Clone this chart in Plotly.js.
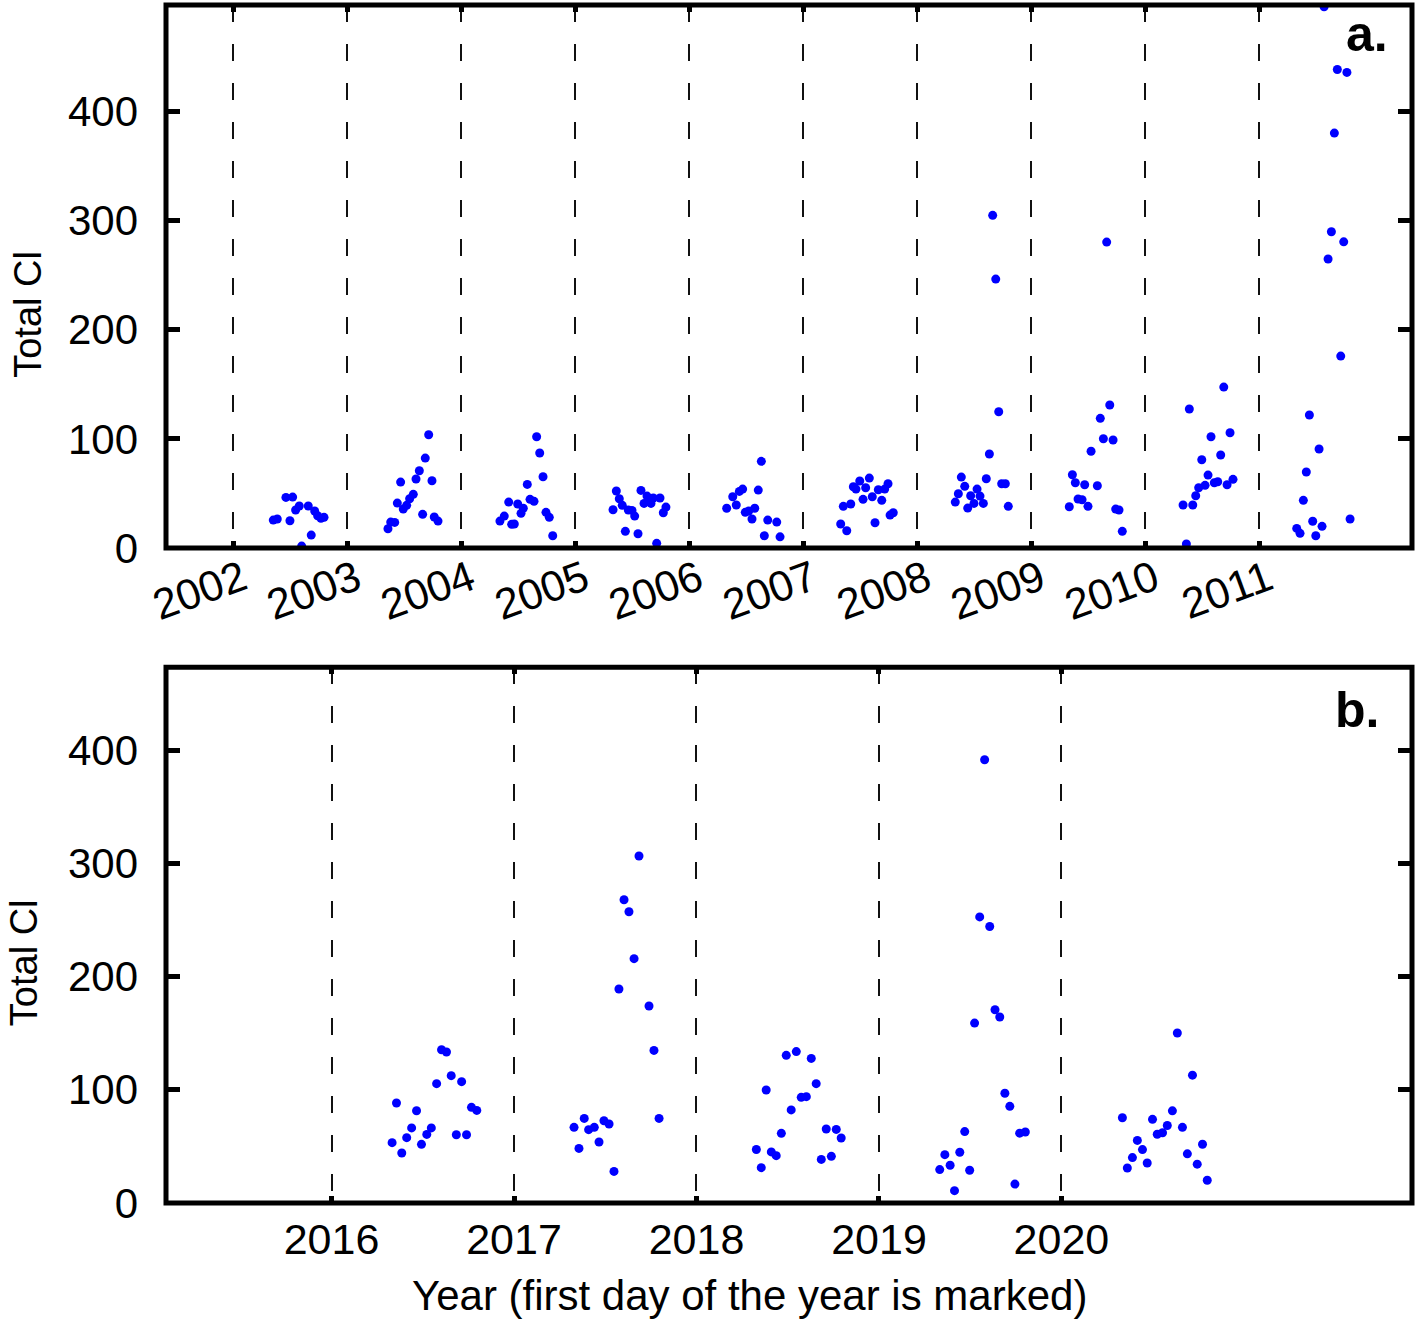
<!DOCTYPE html>
<html>
<head>
<meta charset="utf-8">
<script src="https://cdn.plot.ly/plotly-3.0.1.min.js"></script>
<style>
  body { margin: 0; background: #fff; }
  #chart { width: 1421px; height: 1324px; }
</style>
</head>
<body>
<div id="chart"></div>
<script>
// panel a: 2002-2011, decimal year of each sample and its total Cl
var yearsA = [
  2002.351, 2002.386, 2002.462, 2002.497, 2002.521, 2002.547, 2002.579, 2002.600, 2002.658, 2002.684, 2002.714, 2002.740, 2002.769, 2002.796,
  2003.357, 2003.381, 2003.416, 2003.439, 2003.468, 2003.491, 2003.521, 2003.547, 2003.579, 2003.603, 2003.632, 2003.661, 2003.684, 2003.714, 2003.743, 2003.763, 2003.796,
  2004.339, 2004.377, 2004.416, 2004.442, 2004.465, 2004.495, 2004.524, 2004.544, 2004.579, 2004.603, 2004.638, 2004.661, 2004.688, 2004.717, 2004.743, 2004.772, 2004.802,
  2005.331, 2005.360, 2005.386, 2005.412, 2005.439, 2005.465, 2005.497, 2005.521, 2005.550, 2005.576, 2005.603, 2005.629, 2005.655, 2005.664, 2005.684, 2005.714, 2005.743, 2005.772, 2005.795,
  2006.328, 2006.381, 2006.412, 2006.439, 2006.468, 2006.491, 2006.521, 2006.550, 2006.574, 2006.605, 2006.632, 2006.658, 2006.688, 2006.767, 2006.796,
  2007.328, 2007.351, 2007.381, 2007.416, 2007.439, 2007.462, 2007.495, 2007.524, 2007.547, 2007.579, 2007.605, 2007.629, 2007.658, 2007.688, 2007.714, 2007.743, 2007.761, 2007.789,
  2008.333, 2008.360, 2008.386, 2008.416, 2008.442, 2008.468, 2008.497, 2008.524, 2008.550, 2008.579, 2008.605, 2008.632, 2008.661, 2008.688, 2008.714, 2008.740, 2008.772, 2008.798,
  2009.333, 2009.360, 2009.386, 2009.410, 2009.445, 2009.468, 2009.497, 2009.524, 2009.579, 2009.605, 2009.632, 2009.661, 2009.688, 2009.717, 2009.740, 2009.769, 2009.798,
  2010.331, 2010.360, 2010.386, 2010.416, 2010.442, 2010.468, 2010.495, 2010.524, 2010.550, 2010.576, 2010.605, 2010.635, 2010.661, 2010.688, 2010.717, 2010.743, 2010.769,
  2011.328, 2011.357, 2011.386, 2011.412, 2011.439, 2011.468, 2011.495, 2011.524, 2011.550, 2011.568, 2011.603, 2011.632, 2011.658, 2011.684, 2011.714, 2011.740, 2011.768, 2011.796
];
var totalClA = [
  25.6, 26.6, 46.4, 25.0, 46.7, 34.8, 38.5, 1.8, 38.5, 11.9, 33.9, 29.6, 27.2, 28.1,
  17.7, 23.8, 23.5, 41.2, 60.4, 35.7, 39.1, 45.1, 49.2, 63.2, 70.8, 30.9, 82.4, 103.8, 61.6, 28.4, 24.7,
  24.7, 29.3, 42.1, 21.7, 22.0, 40.3, 31.8, 36.4, 58.3, 44.6, 42.8, 101.9, 87.0, 65.3, 32.7, 28.1, 11.3,
  35.1, 52.2, 45.1, 39.1, 15.3, 34.8, 34.5, 29.3, 13.1, 52.8, 40.9, 47.6, 45.1, 40.9, 45.8, 4.3, 45.8, 32.3, 37.5,
  36.4, 47.0, 39.4, 51.9, 54.0, 32.7, 33.9, 26.6, 36.4, 53.1, 79.4, 11.3, 25.6, 23.8, 10.3,
  22.0, 38.2, 15.8, 40.3, 56.1, 54.0, 61.4, 44.6, 55.2, 64.1, 47.0, 23.2, 53.4, 43.7, 54.0, 58.9, 30.2, 32.3,
  42.1, 49.7, 65.0, 56.5, 36.6, 47.9, 40.9, 54.0, 47.6, 40.9, 63.5, 86.1, 304.7, 246.3, 124.8, 58.9, 58.9, 38.2,
  37.8, 67.1, 59.8, 44.9, 44.2, 58.0, 38.2, 88.6, 57.1, 118.8, 100.1, 280.2, 131.0, 98.9, 35.7, 34.8, 15.3,
  39.4, 3.7, 127.3, 39.4, 47.9, 55.2, 80.9, 57.4, 66.8, 101.9, 59.8, 60.7, 85.2, 147.4, 58.0, 105.6, 62.9,
  18.0, 13.5, 43.7, 69.6, 121.8, 24.5, 11.3, 90.7, 19.9, 495.7, 264.7, 289.7, 380.0, 438.2, 175.8, 280.4, 435.6, 26.6
];

// panel b: 2016-2020
var yearsB = [
  2016.332, 2016.356, 2016.385, 2016.412, 2016.439, 2016.466, 2016.493, 2016.522, 2016.547, 2016.576, 2016.603, 2016.630, 2016.656, 2016.684, 2016.713, 2016.740, 2016.767, 2016.796,
  2017.329, 2017.356, 2017.385, 2017.409, 2017.440, 2017.466, 2017.493, 2017.521, 2017.548, 2017.575, 2017.603, 2017.630, 2017.658, 2017.685, 2017.740, 2017.767, 2017.795,
  2018.328, 2018.355, 2018.382, 2018.410, 2018.437, 2018.465, 2018.492, 2018.519, 2018.547, 2018.574, 2018.602, 2018.629, 2018.656, 2018.684, 2018.711, 2018.739, 2018.766, 2018.793,
  2019.333, 2019.361, 2019.390, 2019.414, 2019.443, 2019.470, 2019.497, 2019.524, 2019.552, 2019.579, 2019.607, 2019.636, 2019.662, 2019.690, 2019.717, 2019.745, 2019.771, 2019.802,
  2020.334, 2020.361, 2020.389, 2020.416, 2020.444, 2020.470, 2020.499, 2020.525, 2020.554, 2020.580, 2020.608, 2020.635, 2020.663, 2020.690, 2020.718, 2020.744, 2020.773, 2020.799
];
var totalClB = [
  53.3, 88.3, 44.2, 57.7, 66.3, 81.5, 51.8, 60.6, 66.3, 105.4, 135.4, 133.4, 112.5, 60.3, 107.2, 60.3, 84.5, 81.8,
  66.8, 48.2, 74.7, 64.8, 66.8, 53.9, 72.7, 69.8, 27.9, 189.0, 267.9, 257.3, 215.8, 306.5, 174.0, 134.8, 74.7,
  47.3, 31.2, 99.8, 45.1, 41.8, 61.5, 130.4, 82.2, 133.7, 93.3, 93.9, 127.7, 105.4, 38.5, 65.4, 41.2, 65.0, 57.4,
  29.5, 42.7, 33.3, 10.9, 44.8, 63.1, 28.9, 158.9, 252.7, 391.5, 244.2, 170.7, 164.3, 96.9, 85.4, 16.7, 61.7, 62.7,
  75.3, 30.9, 40.1, 55.3, 47.2, 35.3, 73.9, 60.7, 62.1, 68.5, 81.4, 150.2, 66.8, 43.4, 112.9, 34.3, 51.9, 20.1
];

var yearTicksA = [2002, 2003, 2004, 2005, 2006, 2007, 2008, 2009, 2010, 2011];
var yearTicksB = [2016, 2017, 2018, 2019, 2020];
var clTicks = [0, 100, 200, 300, 400];

var FONT = 'Liberation Sans, Arial, Helvetica, sans-serif';
var blue = '#0000ff';

var traceA = {
    x: yearsA,
    y: totalClA,
    xaxis: 'x',
    yaxis: 'y',
    type: 'scatter',
    mode: 'markers',
    marker: { color: blue, size: 9, line: { width: 0 } },
    showlegend: false,
    hoverinfo: 'x+y'
};

var traceB = {
    x: yearsB,
    y: totalClB,
    xaxis: 'x2',
    yaxis: 'y2',
    type: 'scatter',
    mode: 'markers',
    marker: { color: blue, size: 9, line: { width: 0 } },
    showlegend: false,
    hoverinfo: 'x+y'
};

// shared look of the year axes (dashed line on every 1 January)
function yearAxis(ticks, range, domainAnchor) {
    return {
        range: range,
        anchor: domainAnchor,
        tickmode: 'array',
        tickvals: ticks,
        ticktext: ticks.map(String),
        ticks: 'inside',
        ticklen: 7,
        tickwidth: 5,
        tickcolor: '#000',
        mirror: 'ticks',
        showline: false,
        zeroline: false,
        showgrid: true,
        gridcolor: '#111',
        gridwidth: 2,
        griddash: '17px,22px',
        tickfont: { family: FONT, size: 43, color: '#000' }
    };
}

function clAxis(range, domain, xAnchor) {
    return {
        range: range,
        domain: domain,
        anchor: xAnchor,
        tickmode: 'array',
        tickvals: clTicks,
        ticks: 'inside',
        ticklen: 14,
        tickwidth: 5,
        tickcolor: '#000',
        mirror: 'ticks',
        showline: false,
        zeroline: false,
        showgrid: false,
        ticklabelstandoff: 27,
        tickfont: { family: FONT, size: 42, color: '#000' }
    };
}

var xaxisA = yearAxis(yearTicksA, [2001.410, 2012.339], 'y');
xaxisA.tickangle = -20;
xaxisA.ticklabelshift = 9;
xaxisA.ticklabelstandoff = -3;
var xaxisB = yearAxis(yearTicksB, [2015.093, 2021.921], 'y2');
xaxisB.ticklabelstandoff = 7;

var layout = {
    width: 1421,
    height: 1324,
    margin: { l: 166, r: 9, t: 5, b: 121 },
    paper_bgcolor: '#fff',
    plot_bgcolor: '#fff',
    font: { family: FONT, color: '#000' },
    showlegend: false,
    xaxis: xaxisA,
    yaxis: clAxis([0, 497.3], [0.5467, 1], 'x'),
    xaxis2: xaxisB,
    yaxis2: clAxis([0, 473.2], [0, 0.4472], 'x2'),
    shapes: [
        { type: 'rect', xref: 'x domain', yref: 'y domain', x0: 0, x1: 1, y0: 0, y1: 1,
          line: { color: '#000', width: 5 }, layer: 'above' },
        { type: 'rect', xref: 'x2 domain', yref: 'y2 domain', x0: 0, x1: 1, y0: 0, y1: 1,
          line: { color: '#000', width: 5 }, layer: 'above' }
    ],
    annotations: [
        { text: '<b>a.</b>', xref: 'x domain', yref: 'y domain', x: 0.982, y: 0.947,
          xanchor: 'right', yanchor: 'middle', showarrow: false,
          font: { family: FONT, size: 50, color: '#000' } },
        { text: '<b>b.</b>', xref: 'x2 domain', yref: 'y2 domain', x: 0.975, y: 0.92,
          xanchor: 'right', yanchor: 'middle', showarrow: false,
          font: { family: FONT, size: 50, color: '#000' } },
        { text: 'Total Cl', xref: 'paper', yref: 'paper', x: -0.111, y: 0.742,
          xanchor: 'center', yanchor: 'middle', textangle: -90, showarrow: false,
          font: { family: FONT, size: 38, color: '#000' } },
        { text: 'Total Cl', xref: 'paper', yref: 'paper', x: -0.114, y: 0.201,
          xanchor: 'center', yanchor: 'middle', textangle: -90, showarrow: false,
          font: { family: FONT, size: 38, color: '#000' } },
        { text: 'Year (first day of the year is marked)', xref: 'paper', yref: 'paper',
          x: 0.468, y: -0.0768, xanchor: 'center', yanchor: 'middle', showarrow: false,
          font: { family: FONT, size: 42, color: '#000' } }
    ]
};

Plotly.newPlot('chart', [traceA, traceB], layout, { staticPlot: true });
</script>
</body>
</html>
